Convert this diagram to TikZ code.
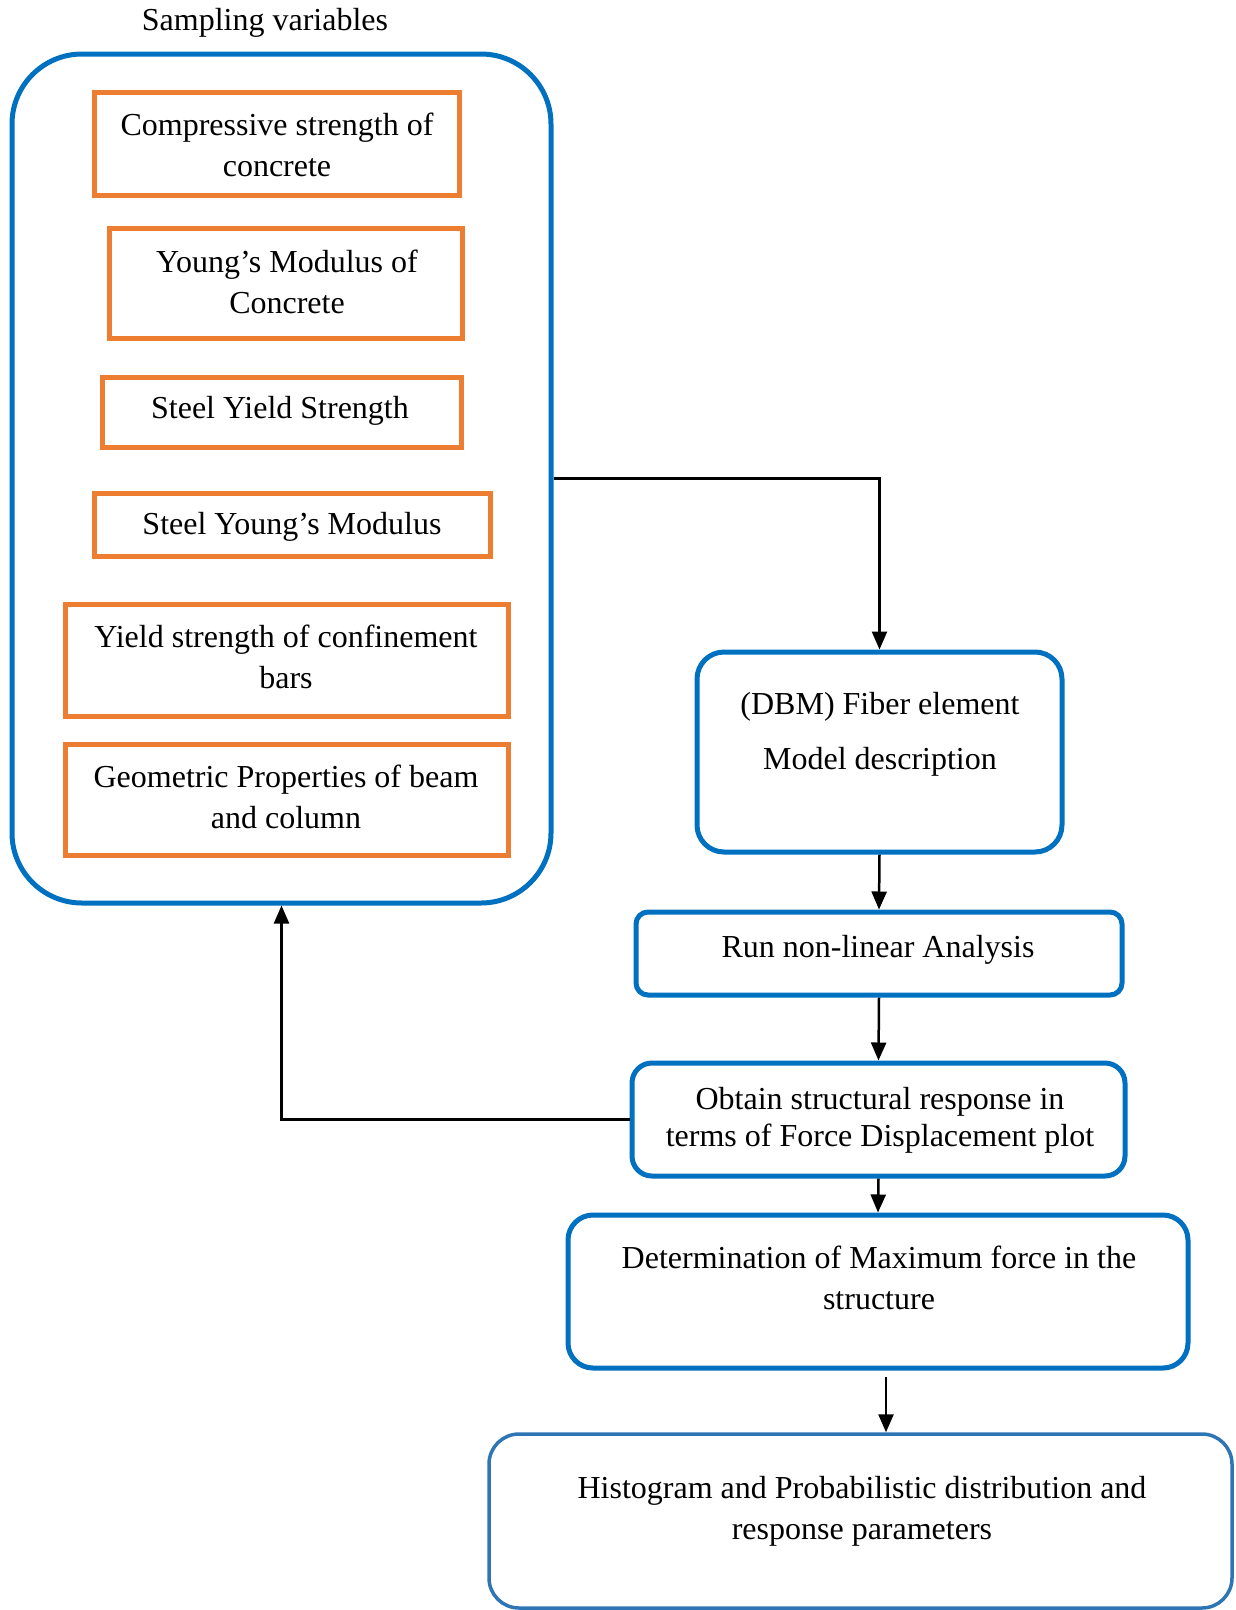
\documentclass[tikz,border=0pt]{standalone}
\usepackage{fontspec}
\setmainfont{Liberation Serif}
\usetikzlibrary{arrows.meta}
\definecolor{bblue}{HTML}{0070C0}
\definecolor{hblue}{HTML}{2E75B6}
\definecolor{orng}{HTML}{ED7D31}
\begin{document}
\begin{tikzpicture}[x=1pt,y=-1pt,
  txt/.style={font=\fontsize{32}{41}\selectfont, align=center, inner sep=0pt},
  obox/.style={draw=orng, line width=5pt, inner sep=0pt},
  bbox/.style={draw=bblue, line width=5pt, inner sep=0pt},
  arr/.style={line width=2.5pt, -{Triangle[length=18pt,width=15pt]}}]
\useasboundingbox (0,0) rectangle (1235,1610);

% big sampling box
\node[bbox, rounded corners=70pt, minimum width=539pt, minimum height=849pt] (sv) at (281.5,478.5) {};
\node[txt] (svt) at (265,23) {Sampling variables};

% orange variable boxes
\node[obox, minimum width=365pt, minimum height=103pt] (b1) at (276.5,143.5) {};
\node[txt] (t1) at (277,145) {Compressive strength of\\concrete};
\node[obox, minimum width=353pt, minimum height=110pt] (b2) at (285.5,283) {};
\node[txt] (t2) at (287,282) {Young’s Modulus of\\Concrete};
\node[obox, minimum width=359pt, minimum height=70pt] (b3) at (281.5,412) {};
\node[txt] (t3) at (280,411) {Steel Yield Strength};
\node[obox, minimum width=396pt, minimum height=63pt] (b4) at (292,524.5) {};
\node[txt] (t4) at (292,527) {Steel Young’s Modulus};
\node[obox, minimum width=443pt, minimum height=112pt] (b5) at (286.5,660) {};
\node[txt] (t5) at (286,657) {Yield strength of confinement\\bars};
\node[obox, minimum width=443pt, minimum height=111pt] (b6) at (286.5,799.5) {};
\node[txt] (t6) at (286,797) {Geometric Properties of beam\\and column};

% process boxes
\node[bbox, rounded corners=27pt, minimum width=365pt, minimum height=200pt] (dbm) at (879.5,752) {};
\node[txt, font=\fontsize{32}{55}\selectfont] (dbmt) at (880,734) {(DBM) Fiber element\\Model description};

\node[bbox, rounded corners=12pt, minimum width=486pt, minimum height=83pt] (run) at (879,953.5) {};
\node[txt] (runt) at (878,950) {Run non-linear Analysis};

\node[bbox, rounded corners=20pt, minimum width=493pt, minimum height=113pt] (obt) at (878.5,1119.5) {};
\node[txt, font=\fontsize{32}{37}\selectfont] (obtt) at (880,1120) {Obtain structural response in\\terms of Force Displacement plot};

\node[bbox, rounded corners=25pt, minimum width=620pt, minimum height=153pt] (det) at (878,1291.5) {};
\node[txt] (dett) at (879,1278) {Determination of Maximum force in the\\structure};

\node[draw=hblue, line width=3.5pt, inner sep=0pt, rounded corners=30pt, minimum width=743pt, minimum height=174pt] (hist) at (860.5,1521) {};
\node[txt] (histt) at (862,1511) {Histogram and Probabilistic distribution and\\response parameters};

% connectors
\draw[arr] (sv.east) -| (dbm.north);
\draw[arr] (dbm.south) -- (run.north);
\draw[arr] (run.south) -- (obt.north);
\draw[arr] (obt.south) -- (det.north);
\draw[arr] ([xshift=8pt,yshift=-6pt]det.south) -- ([xshift=8pt]det.south |- hist.north);
\draw[arr] (obt.west) -| (sv.south);
\end{tikzpicture}
\end{document}
